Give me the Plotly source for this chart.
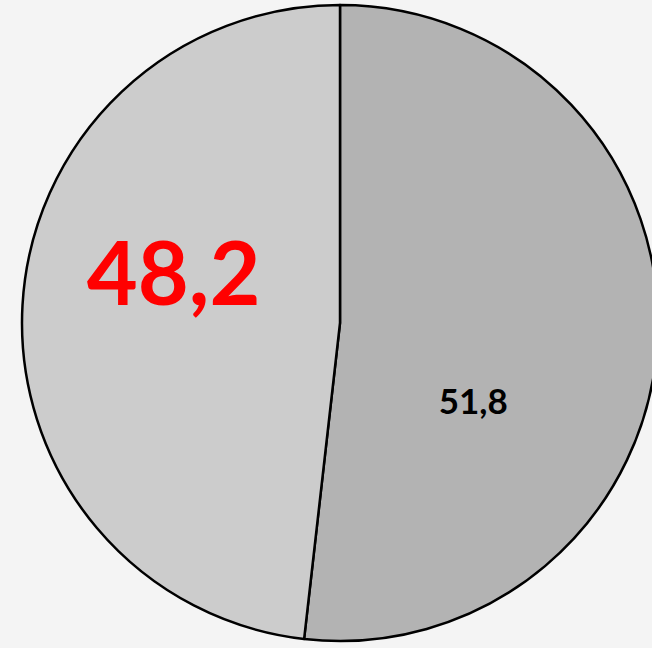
import plotly.graph_objects as go

labels = ["B", "A"]
values = [51.8, 48.2]
slice_colors = ["#b3b3b3", "#cccccc"]
text_colors = ["#000000", "#ff0000"]
text_sizes = [35, 88]

W, H = 660, 648
cx, cy, r = 340, 323, 318

# blank lines / spaces shift each label inside its slice, like the reference
label_texts = [
    "&nbsp;<br>&nbsp;<br>&nbsp;<br>%{value:.1f}" + "&nbsp;" * 6,
    "<sup>&nbsp;</sup>%{value:.1f}&nbsp;&nbsp;<br>&nbsp;",
]

fig = go.Figure(go.Pie(
    labels=labels,
    values=values,
    sort=False,
    direction="clockwise",
    rotation=0,
    marker=dict(colors=slice_colors, line=dict(color="#000000", width=2.5)),
    texttemplate=label_texts,
    textposition="inside",
    insidetextorientation="horizontal",
    textfont=dict(family="Lato, 'DejaVu Sans', sans-serif", color=text_colors, size=text_sizes, weight="bold"),
    hoverinfo="skip",
    showlegend=False,
    domain=dict(x=[(cx - r) / W, min(1, (cx + r) / W)], y=[(H - cy - r) / H, (H - cy + r) / H]),
))

fig.update_layout(
    width=W, height=H,
    margin=dict(l=0, r=0, t=0, b=0),
    paper_bgcolor="#f4f4f4",
    plot_bgcolor="#f4f4f4",
    separators=",.",
    showlegend=False,
)

fig.write_html("out.html", config={"displayModeBar": False})

with open("out.html", "r", encoding="utf-8") as f:
    html = f.read()
html = html.replace("<head>", "<head><style>html,body{margin:0;padding:0;background:#f4f4f4;overflow:hidden}</style>", 1)
with open("out.html", "w", encoding="utf-8") as f:
    f.write(html)
